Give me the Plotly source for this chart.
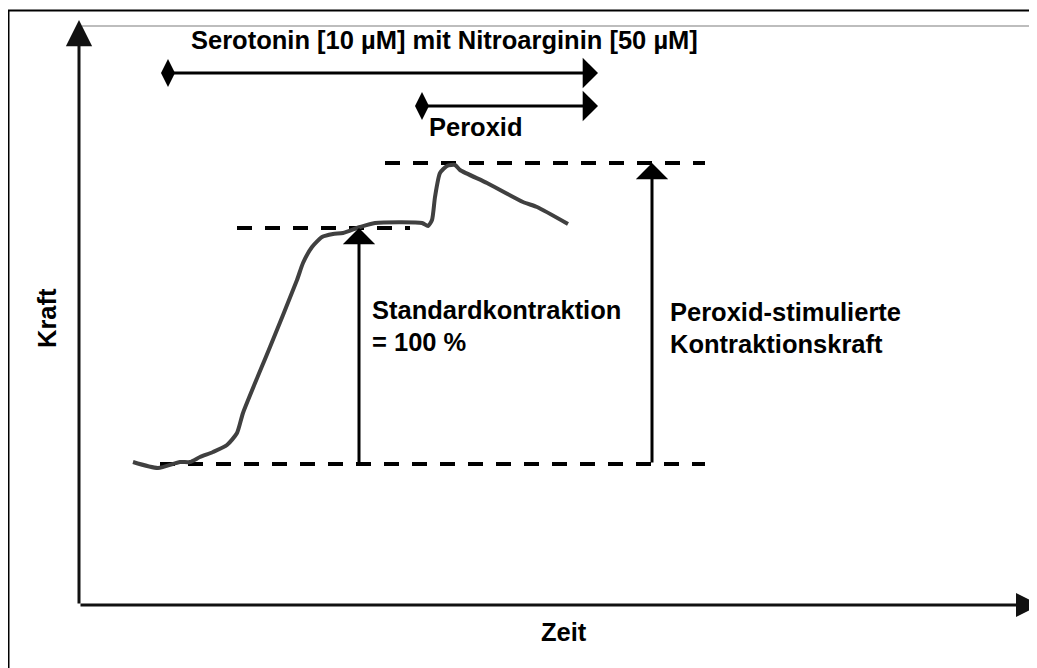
import plotly.graph_objects as go

# ---- data (arbitrary units: time t, force F) ----
curve_t = [5.4, 7.9, 10.1, 11.1, 12.1, 13.4, 14.8, 15.8, 16.4, 19.1, 21.8, 22.4, 23.3, 24.3,
           25.4, 26.4, 28.1, 29.6, 34.3, 34.9, 35.3, 35.6, 36.1, 36.8, 37.6, 38.1, 40.8, 44.4,
           45.8, 48.9]
curve_F = [14.3, 13.7, 14.3, 14.3, 14.8, 15.3, 16.0, 17.2, 19.2, 25.8, 32.5, 34.2, 35.8, 36.8,
           37.1, 37.2, 37.8, 38.2, 38.2, 37.9, 38.5, 40.8, 43.2, 43.9, 44.0, 43.5, 42.2, 40.3,
           39.8, 38.1]

level_names = ["baseline", "standard", "peak"]
level_F = [14.1, 37.7, 44.2]
level_t_start = [8.1, 15.8, 30.6]
level_t_end = [62.6, 33.1, 62.6]

# vertical measurement arrows: (t, from F, to F)
measure_t = [28.0, 57.3]
measure_from = [14.1, 14.1]
measure_to = [37.7, 44.2]

# application periods
period_labels = ["Serotonin [10 µM] mit Nitroarginin [50 µM]", "Peroxid"]
period_start = [8.9, 34.3]
period_end = [51.9, 51.9]
period_F = [53.2, 49.9]

axis_x_max = 96.1
axis_y_max = 58.5

# page is rendered with an 8px body margin; figure fills the rest of the window
OFF = 8
W, H = 1037 - OFF, 668 - OFF
FONT = "Liberation Sans, Arial, sans-serif"

fig = go.Figure()

# dashed level lines
for ts, te, f in zip(level_t_start, level_t_end, level_F):
    fig.add_trace(go.Scatter(x=[ts, te], y=[f, f], mode="lines",
                             line=dict(color="black", width=4, dash="15px,13px"),
                             hoverinfo="skip", showlegend=False))

# curve
fig.add_trace(go.Scatter(x=curve_t, y=curve_F, mode="lines",
                         line=dict(color="#404040", width=4, shape="spline", smoothing=0.6),
                         hoverinfo="skip", showlegend=False))

# period start diamonds
fig.add_trace(go.Scatter(x=period_start, y=period_F, mode="markers",
                         marker=dict(symbol="diamond-tall", size=20, color="black"),
                         hoverinfo="skip", showlegend=False))

annotations = []


def arrow(x0, y0, x1, y1, head=1, size=1.1, width=3, color="black"):
    annotations.append(dict(x=x1, y=y1, ax=x0, ay=y0, xref="x", yref="y", axref="x", ayref="y",
                            text="", showarrow=True, arrowhead=head, arrowsize=size,
                            arrowwidth=width, arrowcolor=color, standoff=0, startstandoff=0))


# axes
arrow(0, 0, 0, axis_y_max, head=2, size=1.75, width=3, color="#111111")
arrow(0, 0, axis_x_max, 0, head=2, size=1.6, width=3, color="#111111")

# measurement arrows
for t, f0, f1 in zip(measure_t, measure_from, measure_to):
    arrow(t, f0, t, f1, head=1, size=1.8, width=3)

# period arrows
for s, e, f in zip(period_start, period_end, period_F):
    arrow(s, f, e, f, head=1, size=1.7, width=3)


def label(text, x, y, xanchor="left", angle=0):
    annotations.append(dict(x=x, y=y, xref="x", yref="y", text="<b>%s</b>" % text,
                            showarrow=False, xanchor=xanchor, yanchor="middle",
                            textangle=angle, font=dict(family=FONT, size=25.5, color="black")))


label(period_labels[0], 11.0, 56.5)
label(period_labels[1], 34.8, 47.8)
label("Standardkontraktion", 29.1, 29.5)
label("= 100 %", 29.1, 26.3)
label("Peroxid-stimulierte", 58.9, 29.3)
label("Kontraktionskraft", 58.9, 26.1)
label("Kraft", -3.2, 28.7, xanchor="center", angle=-90)
label("Zeit", 48.5, -2.7, xanchor="center")


# frame decorations (paper coordinates from page pixel positions)
def px(xp):
    return (xp - OFF) / W


def py(yp):
    return 1 - (yp - OFF) / H


shapes = [
    dict(type="line", xref="paper", yref="paper", x0=px(8.5), x1=px(8.5), y0=py(10), y1=py(668),
         line=dict(color="black", width=2)),
    dict(type="line", xref="paper", yref="paper", x0=px(8), x1=px(1037), y0=py(10.5), y1=py(10.5),
         line=dict(color="black", width=2)),
    dict(type="line", xref="paper", yref="paper", x0=px(82), x1=px(1037), y0=py(26), y1=py(26),
         line=dict(color="#bdbdbd", width=2)),
]

fig.update_layout(
    width=W, height=H,
    margin=dict(l=0, r=0, t=0, b=0),
    paper_bgcolor="white", plot_bgcolor="white",
    xaxis=dict(range=[(OFF - 79) / 10, (1037 - 79) / 10], visible=False, fixedrange=True),
    yaxis=dict(range=[(605 - 668) / 10, (605 - OFF) / 10], visible=False, fixedrange=True),
    annotations=annotations, shapes=shapes,
    showlegend=False,
)

fig.write_html("out.html")
